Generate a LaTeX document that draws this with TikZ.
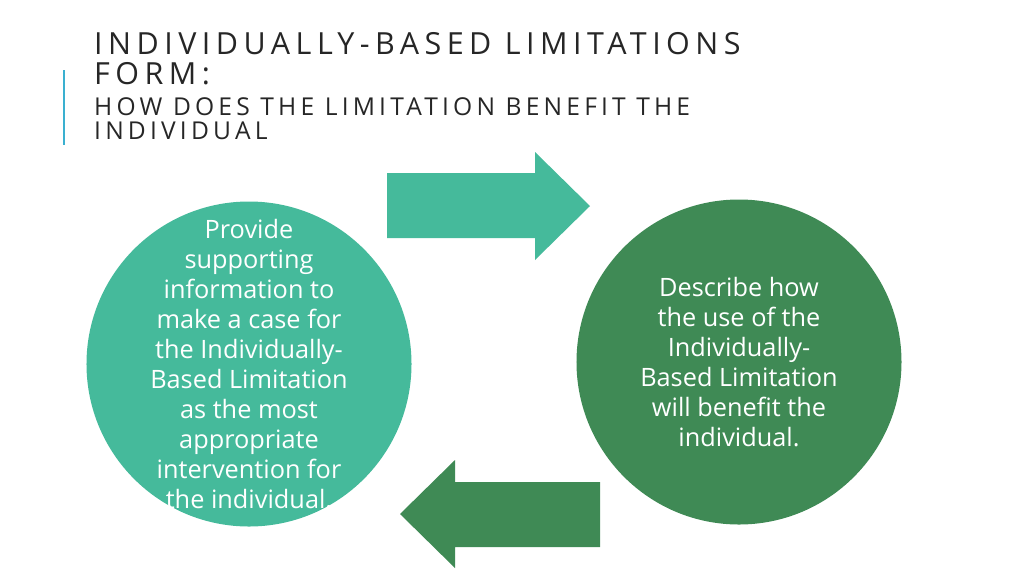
\documentclass[tikz,border=0pt]{standalone}
\usepackage{fontspec}
\setmainfont{Open Sans}
\usetikzlibrary{positioning}
\definecolor{tealgreen}{HTML}{45BA9B}
\definecolor{darkgreen}{HTML}{3F8A55}
\definecolor{titlegray}{HTML}{262626}
\definecolor{accentblue}{HTML}{3AB0D0}
\tikzset{circ/.style={circle,minimum size=9.75cm,inner sep=0pt},
	circtext/.style={text=white,align=center,inner sep=0pt,
		font=\fontsize{21.6}{25.6}\selectfont},
	titletext/.style={anchor=north west,inner sep=0pt,align=left,text=titlegray}}
\begin{document}
\begin{tikzpicture}[x=0.03cm,y=-0.03cm]
		\useasboundingbox (0,0) rectangle (1024,575);
		\draw[accentblue, line width=1.2pt] (64,70) -- (64,145);
		\node[titletext,font=\fontsize{26}{26}\selectfont\addfontfeatures{LetterSpace=18}] (title) at (94,32)
			{INDIVIDUALLY-BASED LIMITATIONS\\FORM:};
		\node[titletext,font=\fontsize{21}{21}\selectfont\addfontfeatures{LetterSpace=17}] (subtitle) at (94,97)
			{HOW DOES THE LIMITATION BENEFIT THE\\INDIVIDUAL};
		\node[circ,fill=tealgreen] (case) at (249,364) {};
		\node[circtext] at (case) {Provide\\supporting\\information to\\make a case for\\the Individually-\\Based Limitation\\as the most\\appropriate\\intervention for\\the individual.};
		\node[circ,fill=darkgreen] (benefit) at (739,362) {};
		\node[circtext] at (benefit) {Describe how\\the use of the\\Individually-\\Based Limitation\\will benefit the\\individual.};
		% arrows
		\fill[tealgreen] (387,173) -- (535,173) -- (535,152) -- (590,206) -- (535,260)
			-- (535,238) -- (387,238) -- cycle;
		\fill[darkgreen] (600,482) -- (455,482) -- (455,460) -- (400,514) -- (455,568)
			-- (455,547) -- (600,547) -- cycle;
	\end{tikzpicture}
\end{document}
